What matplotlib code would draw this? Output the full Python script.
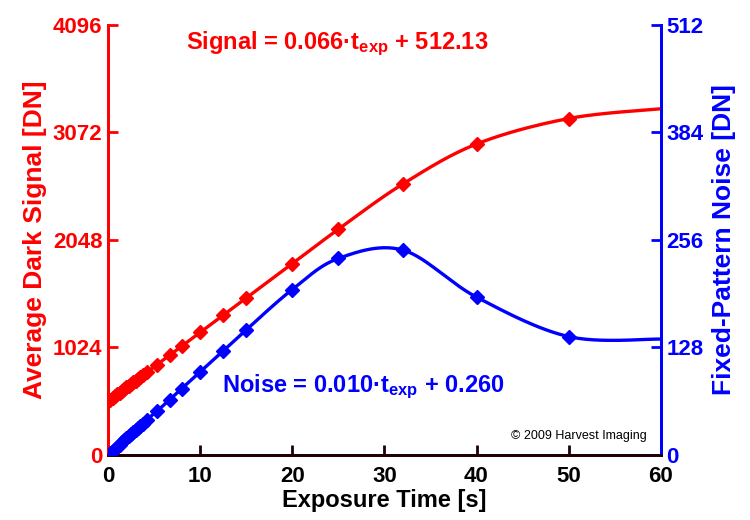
import numpy as np
import matplotlib
matplotlib.use("Agg")
import matplotlib.pyplot as plt

plt.rcParams['font.family'] = ['Liberation Sans', 'DejaVu Sans']
plt.rcParams['font.weight'] = 'bold'
plt.rcParams['mathtext.fontset'] = 'custom'
plt.rcParams['mathtext.rm'] = 'Liberation Sans:bold'
plt.rcParams['mathtext.it'] = 'Liberation Sans:bold'
plt.rcParams['mathtext.bf'] = 'Liberation Sans:bold'

# exposure times [s]; last point (60 s) has no marker
t_exp = [0, 0.25, 0.5, 0.75, 1, 1.25, 1.5, 1.75, 2, 2.25, 2.5, 2.75, 3, 3.25,
         3.5, 3.75, 4.2, 5.3, 6.7, 8, 10, 12.5, 15, 20, 25, 32, 40, 50, 60]
signal = [512, 528, 545, 561, 578, 594, 610, 627, 643, 659, 676, 692, 709, 725,
          741, 758, 787, 859, 951, 1036, 1167, 1331, 1495, 1822, 2150, 2581,
          2962, 3205, 3298]
noise = [0, 2.5, 5, 7.5, 10, 12.5, 15, 17.5, 20, 22.5, 25, 27.5, 30, 32.5,
         35, 37.5, 42, 52, 66, 79, 99, 124, 149, 197, 234, 244, 188, 141, 138]

x_ticks = [0, 10, 20, 30, 40, 50, 60]
left_ticks = [0, 1024, 2048, 3072, 4096]
right_ticks = [0, 128, 256, 384, 512]

RED = '#ff0000'
BLUE = '#0000ff'


def smooth(x, y, xmax, ymax, n=30):
    # excel-like smoothed line (catmull-rom in normalised space)
    p = np.column_stack([np.array(x) / xmax, np.array(y) / ymax])
    p = np.vstack([p[0], p, p[-1]])
    out = []
    for i in range(1, len(p) - 2):
        p0, p1, p2, p3 = p[i - 1], p[i], p[i + 1], p[i + 2]
        s = np.linspace(0, 1, n)[:, None]
        c = 0.5 * ((2 * p1) + (-p0 + p2) * s + (2 * p0 - 5 * p1 + 4 * p2 - p3) * s ** 2
                   + (-p0 + 3 * p1 - 3 * p2 + p3) * s ** 3)
        out.append(c)
    out = np.vstack(out)
    return out[:, 0] * xmax, out[:, 1] * ymax


fig = plt.figure(figsize=(7.5, 5.2), dpi=100)
ax = fig.add_axes([0.144, 0.125, 0.737, 0.827])
ax2 = ax.twinx()

sx, sy = smooth(t_exp, signal, 60, 4096)
ax.plot(sx, sy, color=RED, lw=2.4, zorder=3)
ax.plot(t_exp[:-1], signal[:-1], ls='none', marker='D', ms=7.5, color=RED, zorder=4)

nx, ny = smooth(t_exp, noise, 60, 512)
ax2.plot(nx, ny, color=BLUE, lw=2.4, zorder=3)
ax2.plot(t_exp[:-1], noise[:-1], ls='none', marker='D', ms=7.5, color=BLUE, zorder=4)

ax.set_xlim(0, 60)
ax.set_ylim(0, 4096)
ax2.set_ylim(0, 512)
ax.set_xticks(x_ticks)
ax.set_yticks(left_ticks)
ax2.set_yticks(right_ticks)

for a in (ax, ax2):
    a.spines['top'].set_visible(False)
    a.spines['left'].set_color(RED)
    a.spines['right'].set_color(BLUE)
    a.spines['bottom'].set_color('#200000')
    for s in a.spines.values():
        s.set_linewidth(2)
ax.tick_params(axis='x', direction='in', length=7, width=2, colors='#200000',
               labelsize=16, labelcolor='black', pad=8)
ax.tick_params(axis='y', direction='in', length=7, width=2, colors=RED,
               labelsize=16, pad=4)
ax2.tick_params(axis='y', direction='in', length=7, width=2, colors=BLUE,
                labelsize=16, pad=4)
for lab in ax.get_xticklabels() + ax.get_yticklabels() + ax2.get_yticklabels():
    lab.set_fontweight('bold')

ax.set_xlabel('Exposure Time [s]', fontsize=17, fontweight='bold', labelpad=1)
ax.set_ylabel('Average Dark Signal [DN]', fontsize=19, fontweight='bold',
              color=RED, labelpad=4)
ax2.set_ylabel('Fixed-Pattern Noise [DN]', fontsize=19, fontweight='bold',
               color=BLUE, labelpad=6)

ax.text(0.415, 0.99, 'Signal = 0.066·t$_{\\mathrm{exp}}$ + 512.13', transform=ax.transAxes,
        ha='center', va='top', fontsize=17, fontweight='bold', color=RED)
ax.text(0.206, 0.158, 'Noise = 0.010·t$_{\\mathrm{exp}}$ + 0.260', transform=ax.transAxes,
        ha='left', va='center', fontsize=17, fontweight='bold', color=BLUE)
ax.text(0.975, 0.045, '© 2009 Harvest Imaging', transform=ax.transAxes,
        ha='right', va='center', fontsize=9, fontweight='normal', color='black')

fig.savefig('out.png', dpi=100)
